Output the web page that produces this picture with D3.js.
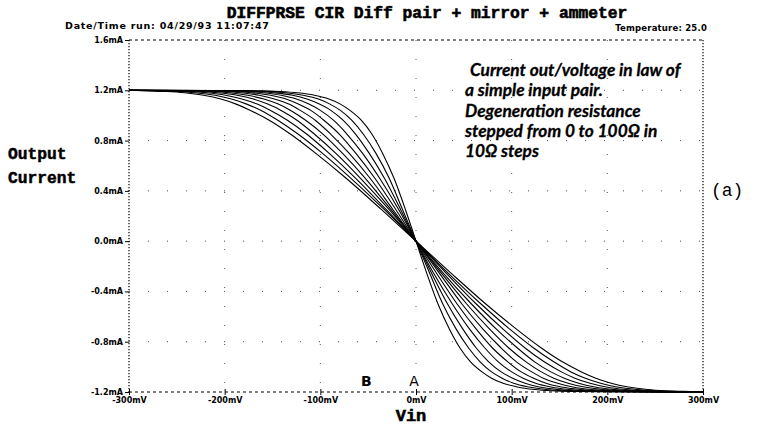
<!DOCTYPE html>
<html lang="en">
<head>
<meta charset="UTF-8">
<title>Diff pair + mirror + ammeter</title>
<script src="https://d3js.org/d3.v7.min.js"></script>
<style>
  body { margin: 0; background: #fff; }
  .chart { display: block; }
</style>
</head>
<body>
<svg class="chart" width="772" height="426"></svg>
<script>
// output current levels (mA) shared by every trace
var currentLevels = [1.2, 1.195, 1.19, 1.18, 1.16, 1.13, 1.09, 1.04, 0.96, 0.85, 0.7, 0.5, 0.25, 0,
  -0.25, -0.5, -0.7, -0.85, -0.96, -1.04, -1.09, -1.13, -1.16, -1.18, -1.19, -1.195, -1.2];

// Vin (mV) where each trace reaches the level above, degeneration 0..100 ohm
var vin_R0   = [-300,-161,-142,-124,-106,-91,-79,-69,-57,-46,-35,-23,-11,0,11,23,35,46,57,69,79,91,106,124,142,161,300];
var vin_R10  = [-300,-172,-154,-136,-118,-102,-90,-79,-67,-55,-42,-28,-14,0,14,28,42,55,67,79,90,102,118,136,154,172,300];
var vin_R20  = [-300,-184,-166,-148,-129,-114,-101,-89,-76,-63,-49,-33,-16,0,16,33,49,63,76,89,101,114,129,148,166,184,300];
var vin_R30  = [-300,-196,-178,-160,-141,-125,-112,-100,-86,-72,-56,-38,-18,0,18,38,56,72,86,100,112,125,141,160,178,196,300];
var vin_R40  = [-300,-208,-190,-172,-152,-136,-123,-110,-96,-80,-63,-43,-21,0,21,43,63,80,96,110,123,136,152,172,190,208,300];
var vin_R50  = [-300,-220,-202,-183,-164,-148,-133,-121,-105,-89,-70,-48,-24,0,24,48,70,89,105,121,133,148,164,183,202,220,300];
var vin_R60  = [-300,-232,-214,-195,-176,-159,-144,-131,-115,-97,-77,-53,-26,0,26,53,77,97,115,131,144,159,176,195,214,232,300];
var vin_R70  = [-300,-244,-226,-207,-187,-170,-155,-141,-124,-106,-84,-58,-28,0,28,58,84,106,124,141,155,170,187,207,226,244,300];
var vin_R80  = [-300,-256,-238,-219,-199,-182,-166,-152,-134,-114,-91,-63,-31,0,31,63,91,114,134,152,166,182,199,219,238,256,300];
var vin_R90  = [-300,-268,-250,-231,-210,-193,-177,-162,-144,-123,-98,-68,-33,0,33,68,98,123,144,162,177,193,210,231,250,268,300];
var vin_R100 = [-300,-280,-261,-242,-222,-204,-188,-173,-153,-131,-105,-73,-36,0,36,73,105,131,153,173,188,204,222,242,261,280,300];

var traces = [vin_R0, vin_R10, vin_R20, vin_R30, vin_R40, vin_R50, vin_R60, vin_R70, vin_R80, vin_R90, vin_R100];

var xTicks = [-300, -200, -100, 0, 100, 200, 300];
var xTickLabels = ["-300mV", "-200mV", "-100mV", "0mV", "100mV", "200mV", "300mV"];
var yTicks = [1.6, 1.2, 0.8, 0.4, 0, -0.4, -0.8, -1.2];
var yTickLabels = ["1.6mA", "1.2mA", "0.8mA", "0.4mA", "0.0mA", "-0.4mA", "-0.8mA", "-1.2mA"];

var noteLines = ["Current out/voltage in law of", "a simple input pair.", "Degeneration resistance",
  "stepped from 0 to 100\u03A9 in", "10\u03A9 steps"];

var svg = d3.select(".chart");

var x = d3.scaleLinear().domain([-300, 300]).range([129, 703]);
var y = d3.scaleLinear().domain([-1.2, 1.6]).range([392, 40]);

var mono = "'Liberation Mono', 'DejaVu Sans Mono', monospace";
var small = "'DejaVu Sans', sans-serif";

// sparse dotted grid
svg.append("g")
  .selectAll("line")
  .data(xTicks.slice(1, -1))
  .join("line")
    .attr("x1", d => x(d)).attr("x2", d => x(d))
    .attr("y1", y(1.6)).attr("y2", y(-1.2))
    .attr("stroke", "#555").attr("stroke-width", 1)
    .attr("stroke-dasharray", "1,18");
svg.append("g")
  .selectAll("line")
  .data(yTicks.slice(1, -1))
  .join("line")
    .attr("x1", x(-300)).attr("x2", x(300))
    .attr("y1", d => y(d)).attr("y2", d => y(d))
    .attr("stroke", "#555").attr("stroke-width", 1)
    .attr("stroke-dasharray", "1,18");

// frame: dashed top/bottom, dotted sides
var frame = svg.append("g").attr("stroke", "#000").attr("stroke-width", 1.2);
frame.append("line").attr("x1", x(-300)).attr("x2", x(300)).attr("y1", y(1.6)).attr("y2", y(1.6)).attr("stroke-dasharray", "3,3");
frame.append("line").attr("x1", x(-300)).attr("x2", x(300)).attr("y1", y(-1.2)).attr("y2", y(-1.2)).attr("stroke-dasharray", "3,3");
frame.append("line").attr("x1", x(-300)).attr("x2", x(-300)).attr("y1", y(1.6)).attr("y2", y(-1.2)).attr("stroke-dasharray", "1.2,1.8");
frame.append("line").attr("x1", x(300)).attr("x2", x(300)).attr("y1", y(1.6)).attr("y2", y(-1.2)).attr("stroke-dasharray", "1.2,1.8");

// axes
var xAxis = d3.axisBottom(x).tickValues(xTicks).tickSize(3).tickPadding(2)
  .tickFormat((d, i) => xTickLabels[i]);
var gx = svg.append("g").attr("transform", "translate(0," + y(-1.2) + ")").call(xAxis);
gx.select(".domain").remove();
gx.selectAll(".tick line").attr("y1", -3);
gx.selectAll("text").attr("font-family", small).attr("font-weight", "bold").attr("font-size", 8);

var yAxis = d3.axisLeft(y).tickValues(yTicks).tickSize(4).tickPadding(2)
  .tickFormat((d, i) => yTickLabels[i]);
var gy = svg.append("g").attr("transform", "translate(" + x(-300) + ",0)").call(yAxis);
gy.select(".domain").remove();
gy.selectAll("text").attr("font-family", small).attr("font-weight", "bold").attr("font-size", 8);

// the eleven traces
var line = d3.line()
  .x(d => x(d[0]))
  .y(d => y(d[1]))
  .curve(d3.curveMonotoneX);

svg.append("g")
  .selectAll("path")
  .data(traces.map(v => v.map((vv, i) => [vv, currentLevels[i]])))
  .join("path")
    .attr("d", line)
    .attr("fill", "none")
    .attr("stroke", "#000")
    .attr("stroke-width", 1.1);

// titles and labels
svg.append("text").attr("x", 427).attr("y", 18).attr("text-anchor", "middle")
  .attr("font-family", mono).attr("font-weight", "bold").attr("font-size", 16.3)
  .attr("stroke", "#000").attr("stroke-width", 0.6)
  .text("DIFFPRSE CIR Diff pair + mirror + ammeter");
svg.append("text").attr("x", 65).attr("y", 29)
  .attr("font-family", small).attr("font-weight", "bold").attr("font-size", 9.5)
  .attr("letter-spacing", 0.75)
  .text("Date/Time run: 04/29/93  11:07:47");
svg.append("text").attr("x", 707).attr("y", 31).attr("text-anchor", "end")
  .attr("font-family", small).attr("font-weight", "bold").attr("font-size", 8.5)
  .attr("letter-spacing", 0.2)
  .text("Temperature:  25.0");

svg.append("text").attr("x", 8).attr("y", 159)
  .attr("font-family", mono).attr("font-weight", "bold").attr("font-size", 16.3)
  .attr("stroke", "#000").attr("stroke-width", 0.5)
  .text("Output");
svg.append("text").attr("x", 8).attr("y", 183)
  .attr("font-family", mono).attr("font-weight", "bold").attr("font-size", 16.3)
  .attr("stroke", "#000").attr("stroke-width", 0.5)
  .text("Current");
svg.append("text").attr("x", 411).attr("y", 421).attr("text-anchor", "middle")
  .attr("font-family", mono).attr("font-weight", "bold").attr("font-size", 17)
  .attr("stroke", "#000").attr("stroke-width", 0.6)
  .text("Vin");
svg.append("text").attr("x", 711).attr("y", 196)
  .attr("font-family", mono).attr("font-size", 18)
  .text("(a)");

svg.append("text").attr("x", x(-52)).attr("y", 386).attr("text-anchor", "middle")
  .attr("font-family", small).attr("font-weight", "bold").attr("font-size", 14)
  .text("B");
svg.append("text").attr("x", x(-2)).attr("y", 386).attr("text-anchor", "middle")
  .attr("font-family", small).attr("font-size", 14)
  .text("A");

svg.append("g")
  .selectAll("text")
  .data(noteLines)
  .join("text")
    .attr("x", (d, i) => i === 0 ? 470 : 465)
    .attr("y", (d, i) => 76 + i * 20.3)
    .attr("font-family", "Lato, 'Open Sans', sans-serif")
    .attr("font-style", "italic").attr("font-weight", "bold").attr("font-size", 17.3)
    .attr("stroke", "#000").attr("stroke-width", 0.3)
    .text(d => d);
</script>
</body>
</html>
